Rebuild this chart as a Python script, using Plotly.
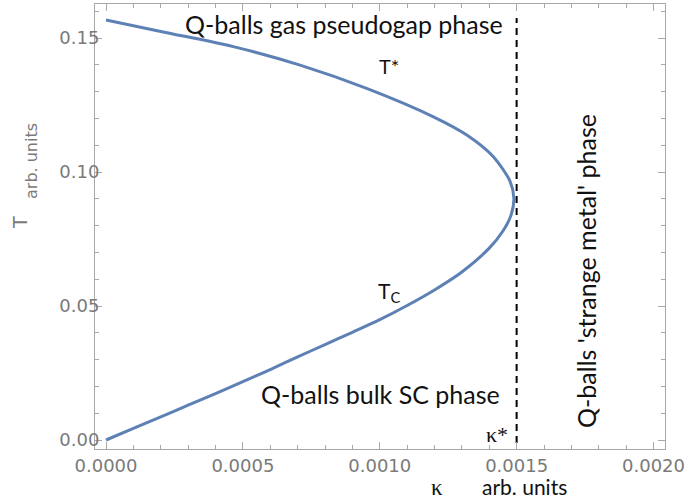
import plotly.graph_objects as go

# Phase boundary (kappa, T): Tc branch from the origin up to the tip, then T* branch back to kappa=0
kappa = [0.0, 0.0001, 0.0002, 0.0003, 0.0004, 0.0005, 0.0006, 0.0007, 0.0008,
         0.0009, 0.0010, 0.0011, 0.0012, 0.0013, 0.0014, 0.00145, 0.00148, 0.00149,
         0.001476, 0.001415, 0.001318, 0.001196, 0.000952, 0.000709, 0.000465,
         0.000222, 0.0]
temp = [0.0, 0.0043, 0.0086, 0.0130, 0.0173, 0.0218, 0.0263, 0.0310, 0.0356,
        0.0402, 0.0449, 0.0502, 0.0560, 0.0627, 0.0716, 0.0780, 0.0840, 0.0902,
        0.0965, 0.1057, 0.1138, 0.1206, 0.1312, 0.1399, 0.1468,
        0.1520, 0.1567]

kappa_star = 0.0015
dash_T = [-0.0011, 0.1575]

x_ticks = [0.0, 0.0005, 0.0010, 0.0015, 0.0020]
x_tick_labels = ["0.0000", "0.0005", "0.0010", "0.0015", "0.0020"]
y_ticks = [0.0, 0.05, 0.10, 0.15]
y_tick_labels = ["0.00", "0.05", "0.10", "0.15"]

W, H = 690, 501
ML, MR, MT, MB = 95, 25, 4, 52

fig = go.Figure()
fig.add_trace(go.Scatter(x=kappa, y=temp, mode="lines",
                         line=dict(color="#5E81B5", width=3, shape="spline", smoothing=0.8),
                         showlegend=False, hoverinfo="skip"))
fig.add_trace(go.Scatter(x=[kappa_star, kappa_star], y=dash_T, mode="lines",
                         line=dict(color="black", width=2, dash="7px,5px"),
                         showlegend=False, hoverinfo="skip"))

frame = "#a8a8a8"
tickfont = dict(family="DejaVu Sans", size=18, color="#7a7a7a")
fig.update_xaxes(range=[-0.0000402, 0.002042], showgrid=False, zeroline=False,
                 showline=True, linecolor=frame, linewidth=1, mirror="allticks",
                 ticks="inside", ticklen=7, tickcolor=frame, tickwidth=1,
                 tickvals=x_ticks, ticktext=x_tick_labels, tickfont=tickfont,
                 minor=dict(ticks="inside", dtick=0.0001, tick0=0, ticklen=4, tickcolor=frame))
fig.update_yaxes(range=[-0.00336, 0.1627], showgrid=False, zeroline=False,
                 showline=True, linecolor=frame, linewidth=1, mirror="allticks",
                 ticks="inside", ticklen=7, tickcolor=frame, tickwidth=1,
                 tickvals=y_ticks, ticktext=y_tick_labels, tickfont=tickfont,
                 ticklabelstandoff=-9,
                 minor=dict(ticks="inside", dtick=0.01, tick0=0, ticklen=4, tickcolor=frame))

pw, ph = W - ML - MR, H - MT - MB


def px(xp):
    return (xp - ML) / pw


def py(yp):
    return (H - MB - yp) / ph


def label(xp, yp, text, size, family="Lato", color="#111111", angle=0):
    return dict(x=px(xp), y=py(yp), xref="paper", yref="paper", text=text,
                showarrow=False, textangle=angle, xanchor="center", yanchor="middle",
                font=dict(family=family, size=size, color=color))


anns = [
    label(344, 24, "Q-balls gas pseudogap phase", 25),
    label(389, 66, "T*", 20),
    label(389, 292, "T<sub>C</sub>", 21),
    label(380, 394, "Q-balls bulk SC phase", 25),
    label(497, 434, "κ*", 22, family="Liberation Serif"),
    label(586, 271, "Q-balls 'strange metal' phase", 25, angle=-90),
    label(20, 223, "T", 19, family="DejaVu Sans", color="#7a7a7a", angle=-90),
    label(31, 161, "arb. units", 16, family="DejaVu Sans", color="#7a7a7a", angle=-90),
    label(437, 487, "κ", 23, family="Liberation Serif"),
    label(524, 486, "arb. units", 21),
]

fig.update_layout(annotations=anns, width=W, height=H,
                  margin=dict(l=ML, r=MR, t=MT, b=MB, autoexpand=False),
                  paper_bgcolor="white", plot_bgcolor="white")

fig.write_html("out.html", config={"displayModeBar": False},
               post_script="document.body.style.margin='0';")
